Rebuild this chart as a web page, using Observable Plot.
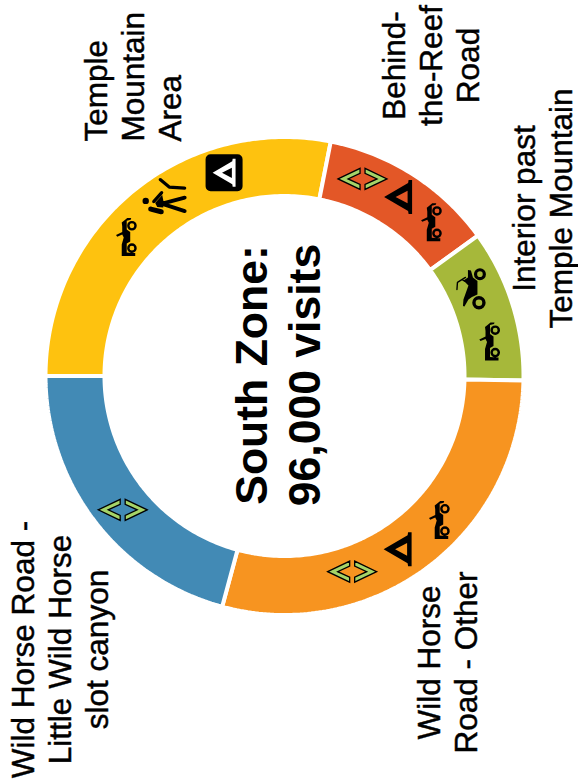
<!DOCTYPE html>
<html>
<head>
<meta charset="utf-8">
<style>html,body{margin:0;padding:0;background:#fff}svg{display:block}</style>
<script src="https://cdn.jsdelivr.net/npm/d3@7"></script>
<script src="https://cdn.jsdelivr.net/npm/@observablehq/plot@0.6"></script>
</head>
<body>
<script>
// ---- data ----
const segmentNames = ["Temple Mountain Area", "Behind-the-Reef Road", "Interior past Temple Mountain", "Wild Horse Road - Other", "Wild Horse Road - Little Wild Horse slot canyon"];
const segmentShares = [28.1, 11.9, 10.3, 28.9, 20.8];
const segmentColors = ["#FEC20F", "#E35727", "#A6B83A", "#F79420", "#428AB5"];
const labelTexts = ["Temple\nMountain\nArea", "Behind-\nthe-Reef\nRoad", "Interior past\nTemple Mountain", "Wild Horse\nRoad - Other", "Wild Horse Road -\nLittle Wild Horse\nslot canyon"];
const centerText = "South Zone:\n96,000 visits";
// icon positions along the ring, in percent of the ring, and their kinds
const iconKinds = ["atv", "hiker", "tentBox", "route", "tent", "atv", "atvBig", "atv", "atv", "tent", "route", "route"];
const iconAlong = [11.5, 15.6, 20.4, 31, 34, 37.1, 43.1, 47.3, 61.9, 65.8, 69.7, 89];
const iconDepth = [211, 216, 212, 212, 212, 213, 206, 208, 211, 207, 207, 210];

// ---- layout ----
const W = 578, H = 782, cx = 284, cy = 375.5, rOut = 239, rIn = 180;
const labelAnchor = ["start", "middle", "middle", "middle", "middle"];
const labelPlaceX = [132, 430, 541, 446, 59];
const labelPlaceY = [141, 65, 208, 662, 649];
const polar = (along, r) => {
  const t = (270 + along * 3.6) * Math.PI / 180;
  return {x: r * Math.sin(t), y: -r * Math.cos(t)};
};

// ring polygons from cumulative shares
const ring = [];
let start = 0;
segmentShares.forEach((share, i) => {
  const n = Math.ceil(share * 4);
  const outer = d3.range(n + 1).map(k => polar(start + share * k / n, rOut));
  const inner = d3.range(n + 1).map(k => polar(start + share * (n - k) / n, rIn));
  for (const p of [...outer, ...inner, outer[0]]) ring.push({name: segmentNames[i], ...p});
  start += share;
});

const icons = iconKinds.map((kind, i) => ({kind, ...polar(iconAlong[i], iconDepth[i])}));
const ofKind = k => icons.filter(d => d.kind === k);
const labels = labelTexts.map((text, i) => ({text, anchor: labelAnchor[i], x: labelPlaceX[i] - cx, y: labelPlaceY[i] - cy}));

// ---- glyphs ----
const poly = (c, pts, k = 1) => { pts.forEach(([x, y], i) => i ? c.lineTo(x * k, y * k) : c.moveTo(x * k, y * k)); c.closePath(); };
const disc = (c, x, y, r, hole) => { c.moveTo(x + r, y); c.arc(x, y, r, 0, 2 * Math.PI, !!hole); c.closePath(); };
const bar = (c, pts, w) => {
  for (let i = 1; i < pts.length; i++) {
    const [ax, ay] = pts[i - 1], [bx, by] = pts[i];
    const l = Math.hypot(bx - ax, by - ay), nx = (by - ay) / l * w / 2, ny = -(bx - ax) / l * w / 2;
    poly(c, [[ax + nx, ay + ny], [bx + nx, by + ny], [bx - nx, by - ny], [ax - nx, ay - ny]]);
  }
  for (const [x, y] of pts) disc(c, x, y, w / 2);
};
const atvSymbol = {draw(c) {
  poly(c, [[-2,-16],[1,-18.5],[5,-18.5],[4.5,-16.8],[0.5,-15.8],[0.5,-7],[4,-4.5],[4,5],[0.5,7],[0.5,16],[7,16.5],[9,16.5],[9,19.5],[-4.5,19.5],[-4.5,8],[-2.5,1],[-4,-2],[-9,0.2],[-10.2,-1.4],[-4,-4.5],[-4,-10],[-4.5,-14]]);
  disc(c, 5.7, -10.7, 4.8); disc(c, 5.7, -10.7, 2.4, true);
  disc(c, 5.7, 11.7, 4.8); disc(c, 5.7, 11.7, 2.4, true);
}};
const atvBigSymbol = {draw(c) {
  poly(c, [[-3.5,-19.5],[-0.5,-19],[1.5,-12],[6,-8.5],[6,5],[0.5,7.5],[-3,10],[-7,17],[-8.5,16.5],[-8,10],[-3,-4],[-8,-9],[-5,-11],[-3.5,-12]]);
  bar(c, [[-14.5,0],[-14,-7],[-6,-12]], 1.4);
  bar(c, [[-9.5,-10],[-6.5,-8]], 1.2);
  disc(c, 8.5, -15.3, 6); disc(c, 8.5, -15.3, 2.8, true);
  disc(c, 7.5, 13.3, 6.7); disc(c, 7.5, 13.3, 3.3, true);
}};
const hikerSymbol = {draw(c) {
  disc(c, -18.5, 4.3, 3.2);
  bar(c, [[-13.5,12.5],[-3,15.2]], 5);
  bar(c, [[-10.5,5],[-2.5,-4]], 3.2);
  poly(c, [[-9,6.5],[-2,-1.5],[-0.5,6],[-1,11],[-7,10.5]]);
  bar(c, [[-4,7.5],[20.5,1]], 3.8);
  bar(c, [[-1,7.5],[20.5,14.5]], 3.8);
  bar(c, [[-4,-17],[5,-9.5],[20.5,-8.5]], 3.2);
}};
const tentDraw = k => ({draw(c) {
  poly(c, [[-14,0],[10,-14],[10.5,-17],[14,-17],[14,17],[10.5,17],[10,14]], k);
  poly(c, [[-2.5,0],[9.5,6.3],[9.5,-6.3]], k);
}});
const boxSymbol = {draw(c) {
  const s = 18.5, r = 5;
  c.moveTo(-s + r, -s); c.lineTo(s - r, -s); c.arcTo(s, -s, s, -s + r, r);
  c.lineTo(s, s - r); c.arcTo(s, s, s - r, s, r);
  c.lineTo(-s + r, s); c.arcTo(-s, s, -s, s - r, r);
  c.lineTo(-s, -s + r); c.arcTo(-s, -s, -s + r, -s, r); c.closePath();
}};
const routeSymbol = {draw(c) {
  poly(c, [[-24.5,0],[-2.5,-10.5],[-2.5,-5.5],[-14.5,0],[-2.5,5.5],[-2.5,10.5]]);
  poly(c, [[24.5,0],[2.5,10.5],[2.5,5.5],[14.5,0],[2.5,-5.5],[2.5,-10.5]]);
}};

const text = {fontFamily: "Liberation Sans", fill: "#000", rotate: -90, lineHeight: 1.17};
const labelInk = {stroke: "#000", strokeWidth: 0.45, fontSize: 31.5};

document.body.append(Plot.plot({
  width: W, height: H, margin: 0,
  style: {background: "#fff"},
  x: {domain: [-cx, W - cx], range: [0, W], axis: null},
  y: {domain: [-cy, H - cy], range: [0, H], axis: null},
  color: {domain: segmentNames, range: segmentColors},
  marks: [
    Plot.line(ring, {x: "x", y: "y", z: "name", fill: "name", stroke: "#fff", strokeWidth: 4, strokeLinejoin: "miter", curve: "linear"}),
    Plot.dot(ofKind("atv"), {x: "x", y: "y", r: 1, symbol: atvSymbol, fill: "#000", stroke: "none"}),
    Plot.dot(ofKind("atvBig"), {x: "x", y: "y", r: 1, symbol: atvBigSymbol, fill: "#000", stroke: "none"}),
    Plot.dot(ofKind("hiker"), {x: "x", y: "y", r: 1, symbol: hikerSymbol, fill: "#000", stroke: "none"}),
    Plot.dot(ofKind("tent"), {x: "x", y: "y", r: 1, symbol: tentDraw(1), fill: "#000", stroke: "none"}),
    Plot.dot(ofKind("tentBox"), {x: "x", y: "y", r: 1, symbol: boxSymbol, fill: "#000", stroke: "none"}),
    Plot.dot(ofKind("tentBox"), {x: "x", y: "y", r: 1, symbol: tentDraw(0.82), fill: "#fff", stroke: "none"}),
    Plot.dot(ofKind("route"), {x: "x", y: "y", r: 1, symbol: routeSymbol, fill: "#A5D468", stroke: "#000", strokeWidth: 1.3}),
    Plot.text(labels.filter(d => d.anchor === "start"), {...text, ...labelInk, x: "x", y: "y", text: "text", textAnchor: "start"}),
    Plot.text(labels.filter(d => d.anchor === "middle"), {...text, ...labelInk, x: "x", y: "y", text: "text", textAnchor: "middle"}),
    Plot.text([centerText], {...text, lineHeight: 1.2, x: () => -8, y: () => -1, text: d => d, textAnchor: "middle", fontSize: 44.5, fontWeight: "bold"})
  ]
}));
</script>
</body>
</html>
